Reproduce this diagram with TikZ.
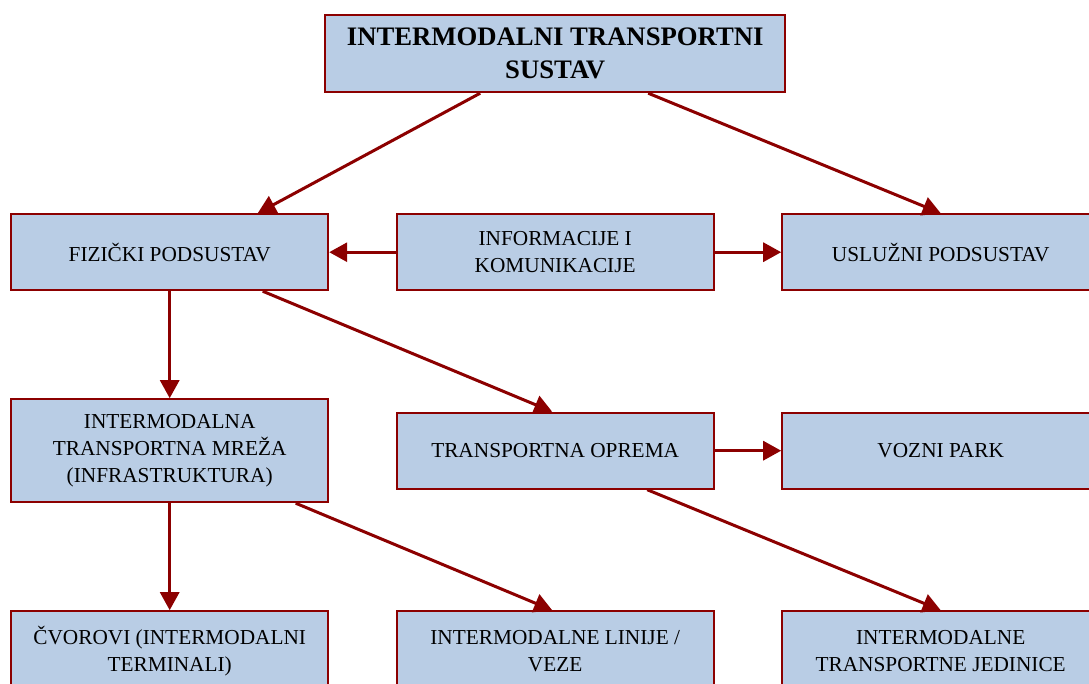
\documentclass[tikz,border=0pt]{standalone}
\usepackage{fontspec}
\setmainfont{Liberation Serif}
\usetikzlibrary{arrows.meta,positioning}
\definecolor{boxfill}{RGB}{185,205,229}
\definecolor{edgered}{RGB}{140,0,0}
\tikzset{
    ampersand replacement=\&,
    >={Triangle[length=18pt,width=19pt]},
    subsys/.style={
        draw=edgered,
        line width=2pt,
        fill=boxfill,
        anchor=center,
        minimum width=317pt,
        minimum height=76pt,
        inner sep=6pt,
        align=center,
        font=\fontsize{21.3}{26.7}\selectfont,
    },
    rootsys/.style={
        subsys,
        minimum width=460pt,
        minimum height=77pt,
        font=\fontsize{26.7}{33}\selectfont\bfseries,
    },
    link/.style={
        ->,
        draw=edgered,
        line width=3pt,
    },
}

\begin{document}
\begin{tikzpicture}[x=1pt,y=-1pt]
            \useasboundingbox (0,0) rectangle (1089,684);
            \clip (0,0) rectangle (1089,684);

            \matrix (grid) [row sep=107pt, column sep=66.5pt, inner sep=0pt, anchor=north west] at (10,213) {
                \node[subsys] (fiz) {FIZIČKI PODSUSTAV} ; \&
                \node[subsys] (inf) {INFORMACIJE I\\KOMUNIKACIJE} ; \&
                \node[subsys] (usl) {USLUŽNI PODSUSTAV} ; \\

                \node[subsys, minimum height=103pt] (mre) {INTERMODALNA\\TRANSPORTNA MREŽA\\(INFRASTRUKTURA)} ; \&
                \node[subsys] (opr) {TRANSPORTNA OPREMA} ; \&
                \node[subsys] (voz) {VOZNI PARK} ; \\

                \node[subsys, minimum height=80pt] (cvo) {ČVOROVI (INTERMODALNI\\TERMINALI)} ; \&
                \node[subsys, minimum height=80pt] (lin) {INTERMODALNE LINIJE /\\VEZE} ; \&
                \node[subsys, minimum height=80pt] (jed) {INTERMODALNE\\TRANSPORTNE JEDINICE} ; \\
            } ;

            \node[rootsys, above=120pt of inf] (sys) {INTERMODALNI TRANSPORTNI\\SUSTAV} ;

            % top level
            \draw[link] ([xshift=-75pt]sys.south) -- ([xshift=88pt]fiz.north) ;
            \draw[link] ([xshift=93pt]sys.south) -- (usl.north) ;
            \draw[link] (inf.west) -- (fiz.east) ;
            \draw[link] (inf.east) -- (usl.west) ;

            % physical subsystem
            \draw[link] (fiz.south) -- (mre.north) ;
            \draw[link] ([xshift=93pt]fiz.south) -- ([xshift=-3pt]opr.north) ;
            \draw[link] (opr.east) -- (voz.west) ;
            \draw[link] (mre.south) -- (cvo.north) ;
            \draw[link] ([xshift=126pt]mre.south) -- ([xshift=-3pt]lin.north) ;
            \draw[link] ([xshift=92pt]opr.south) -- (jed.north) ;
\end{tikzpicture}
\end{document}
